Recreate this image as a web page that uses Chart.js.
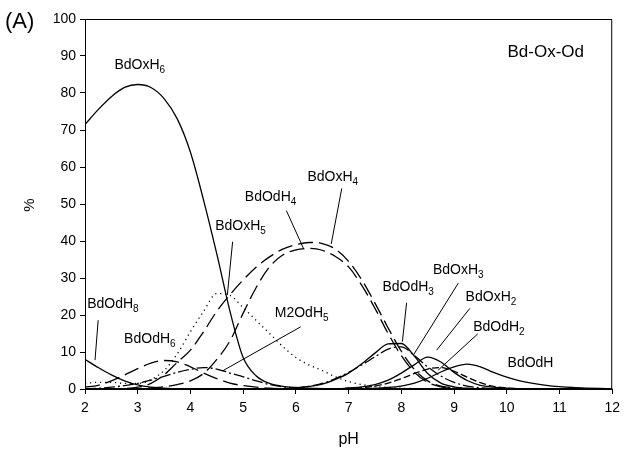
<!DOCTYPE html>
<html>
<head>
<meta charset="utf-8">
<script src="https://cdn.jsdelivr.net/npm/chart.js@4"></script>
<style>
html,body{margin:0;padding:0;background:#fff;}
#wrap{width:626px;height:453px;position:relative;}
</style>
</head>
<body>
<div id="wrap"><canvas id="c" width="626" height="453"></canvas></div>
<script>
// ---- data (pH grid, % of total) ----
const pH = [2,2.25,2.5,2.75,3,3.25,3.5,3.75,4,4.25,4.5,4.75,5,5.25,5.5,5.75,6,6.25,6.5,6.75,7,7.25,7.5,7.75,8,8.25,8.5,8.75,9,9.25,9.5,9.75,10,10.25,10.5,10.75,11,11.25,11.5,11.75,12];
const xTicks = [2,3,4,5,6,7,8,9,10,11,12];
const yTicks = [0,10,20,30,40,50,60,70,80,90,100];

const BdOxH6 = [71.5,75.5,79,81.5,82.3,81.5,78.5,73,64,51,36.5,21,8.5,3.5,1.5,0.7,0.4,0.2,0.1,0,0,0,0,0,0,0,0,0,0,0,0,0,0,0,0,0,0,0,0,0,0];
const BdOdH8 = [8,5.8,3.8,2.2,1.1,0.5,0.2,0.1,0,0,0,0,0,0,0,0,0,0,0,0,0,0,0,0,0,0,0,0,0,0,0,0,0,0,0,0,0,0,0,0,0];
const BdOdH6 = [0.5,1,2.2,3.8,5.5,7,7.7,7.3,6,4.3,2.8,1.6,0.9,0.5,0.2,0.1,0,0,0,0,0,0,0,0,0,0,0,0,0,0,0,0,0,0,0,0,0,0,0,0,0];
const M2OdH5 = [0.1,0.2,0.5,0.9,1.5,2.4,3.4,4.5,5.3,5.8,5.4,4.3,3.3,2.2,1.2,0.6,0.3,0.1,0,0,0,0,0,0,0,0,0,0,0,0,0,0,0,0,0,0,0,0,0,0,0];
const BdOxH5 = [1.5,1.8,1.8,1.5,1.5,2.5,5,9.5,15.5,21,25.8,25.3,22,18.5,15,11.5,8.5,6.5,5,3.3,2,1.2,0.7,0.4,0.2,0.1,0,0,0,0,0,0,0,0,0,0,0,0,0,0,0];
const BdOxH4 = [0,0,0,0.1,0.5,1.5,3.8,7.2,10.5,15.5,21,25.5,29.5,33,35.7,37.8,39,39.6,39.3,37.8,34.5,29.5,23.2,16.5,10.2,5.2,2.2,0.8,0.3,0.1,0,0,0,0,0,0,0,0,0,0,0];
const BdOdH4 = [0,0,0,0,0.1,0.3,0.6,1.2,2.2,4.2,8,13,20.5,27.5,33,36.2,37.6,38,37.5,35.8,33,28,21.8,15,9,4.5,1.8,0.6,0.2,0.1,0,0,0,0,0,0,0,0,0,0,0];
const BdOdH3 = [0,0,0,0,0,0,0,0,0,0,0,0,0,0,0,0.1,0.3,0.7,1.3,2.6,4.3,6.8,9.7,12.2,12.3,8.8,4.2,1.6,0.6,0.2,0.1,0,0,0,0,0,0,0,0,0,0];
const BdOxH3 = [0,0,0,0,0,0,0,0,0,0,0,0,0,0,0,0.1,0.3,0.7,1.5,2.8,4.5,6.5,8.7,10.8,11.4,9,6,3.5,1.8,0.8,0.3,0.1,0,0,0,0,0,0,0,0,0];
const BdOxH2 = [0,0,0,0,0,0,0,0,0,0,0,0,0,0,0,0,0,0,0,0,0.3,0.6,1.2,2.4,4.3,6.6,8.6,7.3,4.5,2.3,1,0.5,0.2,0.1,0,0,0,0,0,0,0];
const BdOdH2 = [0,0,0,0,0,0,0,0,0,0,0,0,0,0,0,0,0,0,0,0,0.2,0.4,0.8,1.6,2.8,4.2,5.4,5.8,4.8,3.2,1.7,0.7,0.3,0.1,0,0,0,0,0,0,0];
const BdOdH  = [0,0,0,0,0,0,0,0,0,0,0,0,0,0,0,0,0,0,0,0,0,0,0.2,0.4,0.8,1.6,2.9,4.6,6,6.7,6,4.5,3.2,2.2,1.5,1,0.65,0.4,0.25,0.15,0.1];

// ---- styles (kept apart from data) ----
const SOLID=[], LONG=[15,6], DOT=[1.2,3.8], DASHDOT=[11,3,2,3], DASH=[7,3];
const series = [
  {name:'BdOxH6', values:BdOxH6, dash:SOLID},
  {name:'BdOdH8', values:BdOdH8, dash:SOLID},
  {name:'BdOdH6', values:BdOdH6, dash:LONG},
  {name:'M2OdH5', values:M2OdH5, dash:DASHDOT},
  {name:'BdOxH5', values:BdOxH5, dash:DOT},
  {name:'BdOxH4', values:BdOxH4, dash:LONG},
  {name:'BdOdH4', values:BdOdH4, dash:LONG},
  {name:'BdOdH3', values:BdOdH3, dash:SOLID},
  {name:'BdOxH3', values:BdOxH3, dash:DASHDOT},
  {name:'BdOxH2', values:BdOxH2, dash:SOLID},
  {name:'BdOdH2', values:BdOdH2, dash:DASH},
  {name:'BdOdH',  values:BdOdH,  dash:SOLID}
];

// annotation label positions in data units: [base, sub, x, y, leader]
const annotations = [
  ['BdOxH','6',3.04,87.3,null],
  ['BdOdH','8',2.53,22.7,[2.25,18.6,2.19,7.8]],
  ['BdOdH','6',3.23,13.2,null],
  ['BdOxH','5',4.95,43.8,[4.80,39.8,4.70,25.4]],
  ['BdOdH','4',5.52,51.6,[5.82,48.2,6.15,37.8]],
  ['BdOxH','4',6.70,57.0,[6.87,54.2,6.67,39.2]],
  ['M2OdH','5',6.11,20.3,[6.09,16.8,4.61,4.9]],
  ['BdOdH','3',8.13,27.3,[8.10,23.3,8.02,12.8]],
  ['BdOxH','3',9.08,31.9,[9.08,28.6,8.23,9.2]],
  ['BdOxH','2',9.70,24.6,[9.30,21.8,8.67,10.5]],
  ['BdOdH','2',9.85,16.5,[9.45,14.9,8.70,5.1]],
  ['BdOdH','',10.45,6.8,null]
];
const FONT = '"Liberation Sans", Arial, sans-serif';

const decor = {
  id:'decor',
  afterDatasetsDraw(chart){
    const {ctx, chartArea:a, scales:{x,y}} = chart;
    ctx.save();
    ctx.strokeStyle='#000'; ctx.lineWidth=1; ctx.setLineDash([]);
    ctx.strokeRect(a.left+0.5, a.top+0.5, a.right-a.left-1, a.bottom-a.top);
    annotations.forEach(([base,sub,lx,ly,ld])=>{
      if(ld){
        ctx.beginPath();
        ctx.moveTo(x.getPixelForValue(ld[0]), y.getPixelForValue(ld[1]));
        ctx.lineTo(x.getPixelForValue(ld[2]), y.getPixelForValue(ld[3]));
        ctx.stroke();
      }
      ctx.fillStyle='#000';
      ctx.textBaseline='middle'; ctx.textAlign='left';
      ctx.font='14px '+FONT;
      const w1 = ctx.measureText(base).width;
      ctx.font='10px '+FONT;
      const w2 = sub ? ctx.measureText(sub).width : 0;
      const px = x.getPixelForValue(lx) - (w1+w2)/2;
      const py = y.getPixelForValue(ly) - 1;
      ctx.font='14px '+FONT;
      ctx.fillText(base, px, py);
      if(sub){ ctx.font='10px '+FONT; ctx.fillText(sub, px+w1, py+5); }
    });
    ctx.font='17px '+FONT; ctx.textAlign='center'; ctx.textBaseline='middle';
    ctx.fillText('Bd-Ox-Od', x.getPixelForValue(10.74), y.getPixelForValue(91));
    // panel letter and axis titles
    ctx.font='22px '+FONT; ctx.textAlign='left';
    ctx.fillText('(A)', 5, 22);
    ctx.font='16px '+FONT; ctx.textAlign='center';
    ctx.fillText('pH', (a.left+a.right)/2, 440);
    ctx.save();
    ctx.translate(30, (a.top+a.bottom)/2 + 1);
    ctx.rotate(-Math.PI/2);
    ctx.font='15px '+FONT;
    ctx.fillText('%', 0, 0);
    ctx.restore();
    ctx.restore();
  }
};

new Chart(document.getElementById('c'), {
  type:'line',
  data:{
    datasets: series.map(s=>({
      label:s.name,
      data: pH.map((v,i)=>({x:v, y:s.values[i]})),
      borderColor:'#000', borderWidth:1.3, borderDash:s.dash,
      pointRadius:0, fill:false, cubicInterpolationMode:'monotone'
    }))
  },
  options:{
    responsive:false, animation:false,
    layout:{padding:{left:0,right:11,top:19,bottom:0}},
    plugins:{legend:{display:false}, tooltip:{enabled:false}},
    scales:{
      x:{type:'linear', min:2, max:12,
        afterBuildTicks(s){ s.ticks = xTicks.map(v=>({value:v})); },
        afterFit(s){ s.height = 64; },
        ticks:{font:{size:14,family:FONT}, color:'#000', padding:6, maxRotation:0},
        grid:{drawOnChartArea:false, drawTicks:true, tickLength:5, color:'#000'},
        border:{display:true,color:'#000',width:1}},
      y:{type:'linear', min:0, max:100,
        afterBuildTicks(s){ s.ticks = yTicks.map(v=>({value:v})); },
        afterFit(s){ s.width = 85; },
        ticks:{font:{size:14,family:FONT}, color:'#000', padding:4},
        grid:{drawOnChartArea:false, drawTicks:true, tickLength:5, color:'#000'},
        border:{display:true,color:'#000',width:1}}
    }
  },
  plugins:[decor]
});
</script>
</body>
</html>
